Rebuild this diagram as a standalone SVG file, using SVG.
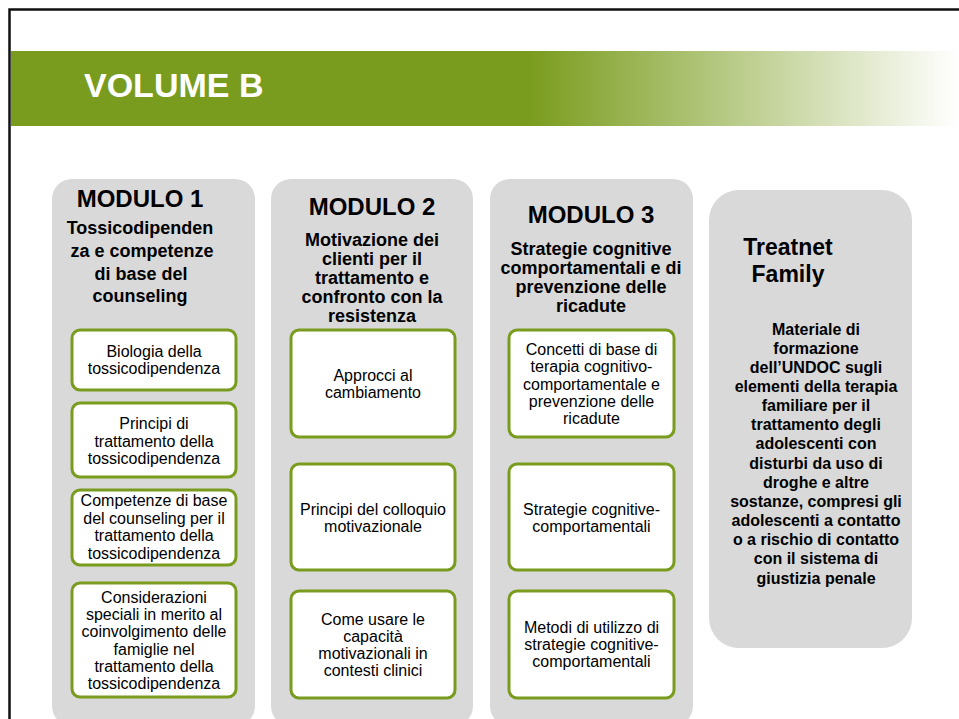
<svg xmlns="http://www.w3.org/2000/svg" width="959" height="719" viewBox="0 0 959 719">
  <defs>
    <linearGradient id="band" x1="0" y1="0" x2="959" y2="0" gradientUnits="userSpaceOnUse">
      <stop offset="0" stop-color="#7A9C1E"/>
      <stop offset="0.553" stop-color="#7A9C1E"/>
      <stop offset="1" stop-color="#FFFFFF"/>
    </linearGradient>
    <style>
      text { font-family: "Liberation Sans", Arial, sans-serif; fill: #000; text-anchor: middle; }
      .title { fill: #FFFFFF; font-size: 34px; font-weight: bold; text-anchor: start; }
      .panel { fill: #D9D9D9; }
      .box { fill: #FFFFFF; stroke: #7A9C1E; stroke-width: 3; }
      .mod { font-size: 24px; font-weight: bold; }
      .sub { font-size: 18px; font-weight: bold; }
      .item { font-size: 16px; }
      .tn { font-size: 23px; font-weight: bold; }
      .tnb { font-size: 16px; font-weight: bold; }
    </style>
  </defs>
  <rect x="0" y="0" width="959" height="719" fill="#FFFFFF"/>
  <rect x="11" y="51" width="948" height="75" fill="url(#band)"/>
  <path d="M9.5 719 V9.5 H959" fill="none" stroke="#111" stroke-width="2.5"/>
  <text class="title" x="84" y="97">VOLUME B</text>

  <g id="modulo1">
    <rect class="panel" x="52" y="179" width="203" height="547" rx="20"/>
    <text class="mod" x="140" y="207">MODULO 1</text>
    <text class="sub" x="140" y="234">Tossicodipenden</text>
    <text class="sub" x="142" y="257">za e competenze</text>
    <text class="sub" x="141" y="280">di base del</text>
    <text class="sub" x="140" y="302">counseling</text>
  </g>
  <g id="m1-b1">
    <rect class="box" x="72" y="330" width="164" height="60" rx="8"/>
    <text class="item" x="154" y="357">Biologia della</text>
    <text class="item" x="154" y="374">tossicodipendenza</text>
  </g>
  <g id="m1-b2">
    <rect class="box" x="72" y="403" width="164" height="74" rx="8"/>
    <text class="item" x="154" y="429">Principi di</text>
    <text class="item" x="154" y="446.5">trattamento della</text>
    <text class="item" x="154" y="464">tossicodipendenza</text>
  </g>
  <g id="m1-b3">
    <rect class="box" x="72" y="490" width="164" height="75" rx="8"/>
    <text class="item" x="154" y="506">Competenze di base</text>
    <text class="item" x="154" y="523.5">del counseling per il</text>
    <text class="item" x="154" y="541">trattamento della</text>
    <text class="item" x="154" y="558.5">tossicodipendenza</text>
  </g>
  <g id="m1-b4">
    <rect class="box" x="72" y="583" width="164" height="114" rx="8"/>
    <text class="item" x="154" y="602.5">Considerazioni</text>
    <text class="item" x="154" y="620">speciali in merito al</text>
    <text class="item" x="154" y="637">coinvolgimento delle</text>
    <text class="item" x="154" y="654.5">famiglie nel</text>
    <text class="item" x="154" y="672">trattamento della</text>
    <text class="item" x="154" y="689">tossicodipendenza</text>
  </g>

  <g id="modulo2">
    <rect class="panel" x="271" y="179" width="202" height="547" rx="20"/>
    <text class="mod" x="372" y="215">MODULO 2</text>
    <text class="sub" x="372" y="246">Motivazione dei</text>
    <text class="sub" x="372" y="265">clienti per il</text>
    <text class="sub" x="372" y="284">trattamento e</text>
    <text class="sub" x="372" y="303">confronto con la</text>
    <text class="sub" x="372" y="322">resistenza</text>
  </g>
  <g id="m2-b1">
    <rect class="box" x="291" y="330" width="164" height="107" rx="8"/>
    <text class="item" x="373" y="381">Approcci al</text>
    <text class="item" x="373" y="398">cambiamento</text>
  </g>
  <g id="m2-b2">
    <rect class="box" x="291" y="464" width="164" height="106" rx="8"/>
    <text class="item" x="373" y="514.5">Principi del colloquio</text>
    <text class="item" x="373" y="531.5">motivazionale</text>
  </g>
  <g id="m2-b3">
    <rect class="box" x="291" y="591" width="164" height="107" rx="8"/>
    <text class="item" x="373" y="625">Come usare le</text>
    <text class="item" x="373" y="642">capacità</text>
    <text class="item" x="373" y="659">motivazionali in</text>
    <text class="item" x="373" y="676">contesti clinici</text>
  </g>

  <g id="modulo3">
    <rect class="panel" x="490" y="179" width="203" height="547" rx="20"/>
    <text class="mod" x="591" y="223">MODULO 3</text>
    <text class="sub" x="591" y="255">Strategie cognitive</text>
    <text class="sub" x="591" y="274">comportamentali e di</text>
    <text class="sub" x="591" y="293">prevenzione delle</text>
    <text class="sub" x="591" y="312">ricadute</text>
  </g>
  <g id="m3-b1">
    <rect class="box" x="509" y="330" width="165" height="107" rx="8"/>
    <text class="item" x="591.5" y="355">Concetti di base di</text>
    <text class="item" x="591.5" y="372">terapia cognitivo-</text>
    <text class="item" x="591.5" y="389.5">comportamentale e</text>
    <text class="item" x="591.5" y="407">prevenzione delle</text>
    <text class="item" x="591.5" y="424">ricadute</text>
  </g>
  <g id="m3-b2">
    <rect class="box" x="509" y="464" width="165" height="106" rx="8"/>
    <text class="item" x="591.5" y="514.5">Strategie cognitive-</text>
    <text class="item" x="591.5" y="531.5">comportamentali</text>
  </g>
  <g id="m3-b3">
    <rect class="box" x="509" y="591" width="165" height="107" rx="8"/>
    <text class="item" x="591.5" y="633">Metodi di utilizzo di</text>
    <text class="item" x="591.5" y="650">strategie cognitive-</text>
    <text class="item" x="591.5" y="667">comportamentali</text>
  </g>

  <g id="treatnet">
    <rect class="panel" x="709" y="190" width="203" height="458" rx="30"/>
    <text class="tn" x="788" y="255">Treatnet</text>
    <text class="tn" x="788" y="282">Family</text>
    <text class="tnb" x="816" y="334.5">Materiale di</text>
    <text class="tnb" x="816" y="353.6">formazione</text>
    <text class="tnb" x="816" y="372.8">dell’UNDOC sugli</text>
    <text class="tnb" x="816" y="392">elementi della terapia</text>
    <text class="tnb" x="816" y="411.1">familiare per il</text>
    <text class="tnb" x="816" y="430.3">trattamento degli</text>
    <text class="tnb" x="816" y="449.4">adolescenti con</text>
    <text class="tnb" x="816" y="468.6">disturbi da uso di</text>
    <text class="tnb" x="816" y="487.7">droghe e altre</text>
    <text class="tnb" x="816" y="506.9">sostanze, compresi gli</text>
    <text class="tnb" x="816" y="526">adolescenti a contatto</text>
    <text class="tnb" x="816" y="545.2">o a rischio di contatto</text>
    <text class="tnb" x="816" y="564.3">con il sistema di</text>
    <text class="tnb" x="816" y="583.5">giustizia penale</text>
  </g>
</svg>
